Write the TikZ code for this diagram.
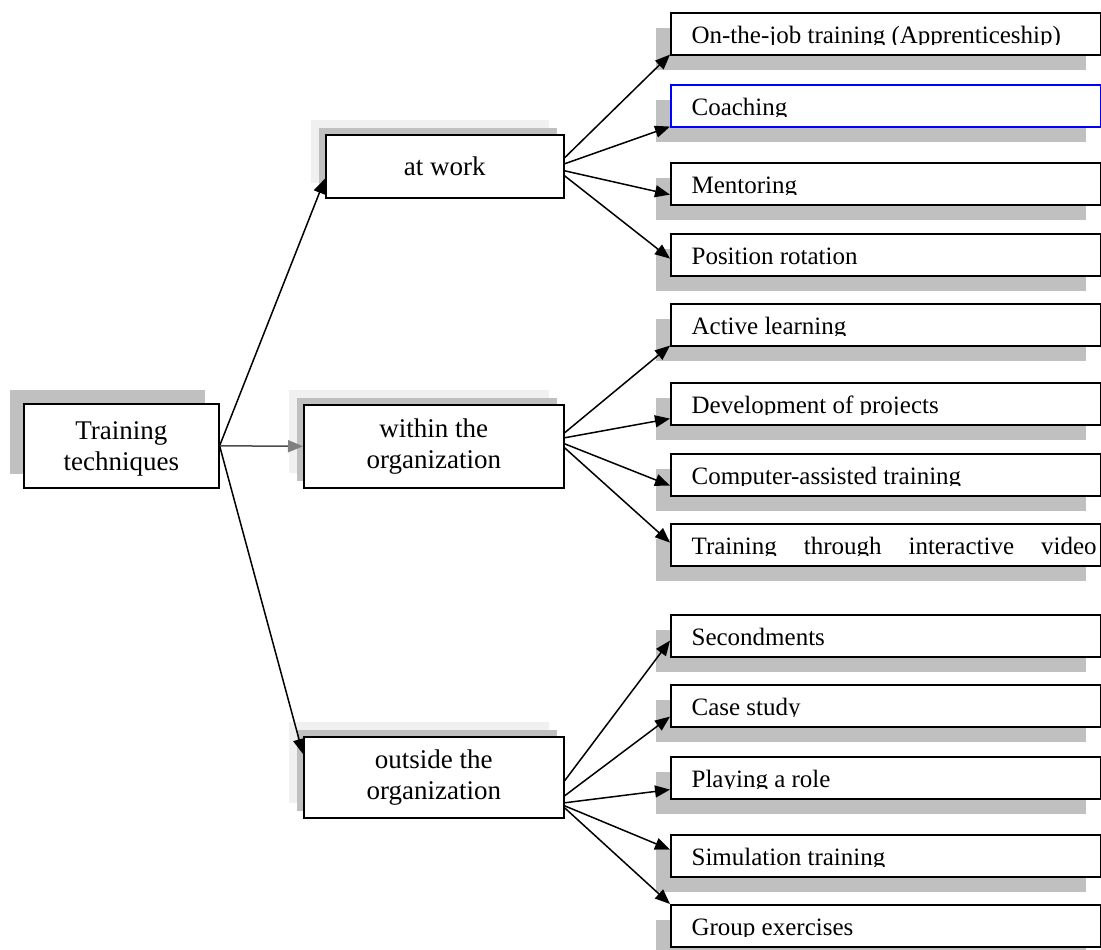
\documentclass[tikz,border=0pt]{standalone}
\usepackage{fontspec}
\setmainfont{Liberation Serif}
\usetikzlibrary{arrows.meta,shadows}
\definecolor{shade}{HTML}{C0C0C0}
\definecolor{paleshade}{HTML}{F0F0F0}
\tikzset{
  box/.style={draw, fill=white, line width=1.6pt, inner sep=0pt, anchor=north west},
  root/.style={box, minimum width=195pt, minimum height=84pt, align=center,
    font=\fontsize{27}{31}\selectfont,
    general shadow={fill=shade, draw=none, shadow xshift=-14pt, shadow yshift=14pt}},
  branch/.style={box, minimum width=260pt, minimum height=#1, align=center,
    font=\fontsize{27}{31}\selectfont,
    general shadow={fill=paleshade, draw=none, shadow xshift=-15pt, shadow yshift=15pt},
    general shadow={fill=shade, draw=none, shadow xshift=-7pt, shadow yshift=7pt}},
  leaftext/.style={draw=none, fill=none, minimum width=0pt, minimum height=0pt,
    inner sep=0pt, anchor=base west, path picture={}, font=\fontsize{25}{30}\selectfont},
  leaf/.style={box, minimum width=430pt, minimum height=42pt,
    general shadow={fill=shade, draw=none, path picture={}, shadow xshift=-15pt, shadow yshift=-15pt},
    path picture={
      \clip (path picture bounding box.north west) rectangle ([yshift=10.5pt]path picture bounding box.south east);
      \node[leaftext] at ([xshift=20pt,yshift=11pt]path picture bounding box.south west) {#1};}},
  link/.style={-{Triangle[length=15pt,width=12pt]}, line width=1.5pt},
}

\begin{document}
\begin{tikzpicture}[x=1pt,y=-1pt]
\useasboundingbox (0,0) rectangle (1101,950);
% root and the three groups
\node[root, text depth=-6pt] (tech) at (23,403) {Training\\techniques};
\node[branch=63pt, minimum width=238pt] (work) at (325,134) {at work};
\node[branch=83pt] (inside) at (303,404) {within the\\organization};
\node[branch=81pt] (outside) at (303,736) {outside the\\organization};
% techniques
\node[leaf={On-the-job training (Apprenticeship)}] (appr) at (670,12) {};
\node[leaf={Coaching}, draw=blue] (coach) at (670,84) {};
\node[leaf={Mentoring}] (mentor) at (670,162) {};
\node[leaf={Position rotation}] (rot) at (670,233) {};
\node[leaf={Active learning}] (active) at (670,303) {};
\node[leaf={Development of projects}] (proj) at (670,382) {};
\node[leaf={Computer-assisted training}] (cat) at (670,453) {};
\node[leaf={\makebox[405pt][s]{Training through interactive video}}] (video) at (670,523) {};
\node[leaf={Secondments}] (second) at (670,614) {};
\node[leaf={Case study}] (case) at (670,684) {};
\node[leaf={Playing a role}] (role) at (670,756) {};
\node[leaf={Simulation training}] (sim) at (670,834) {};
\node[leaf={Group exercises}] (group) at (670,904) {};
% root links
\draw[link] (tech.east) -- ([yshift=20pt]work.south west);
\draw[link, draw=black!70, -{Triangle[length=15pt,width=12pt,color=black!50]}] (tech.east) -- (inside.west);
\draw[link] (tech.east) -- ([yshift=-18pt]outside.north west);
% at work
\draw[link] ([yshift=8.5pt]work.east) -- ([yshift=1pt]appr.south west);
\draw[link] ([yshift=2.5pt]work.east) -- ([yshift=1pt]coach.south west);
\draw[link] ([yshift=-4.5pt]work.east) -- ([yshift=11pt]mentor.south west);
\draw[link] ([yshift=-9.5pt]work.east) -- ([yshift=18pt]rot.south west);
% within the organization
\draw[link] ([yshift=13.5pt]inside.east) -- ([yshift=1pt]active.south west);
\draw[link] ([yshift=8.5pt]inside.east) -- ([yshift=7pt]proj.south west);
\draw[link] ([yshift=2.5pt]inside.east) -- ([yshift=11pt]cat.south west);
\draw[link] ([yshift=-1.5pt]inside.east) -- ([yshift=24pt]video.south west);
% outside the organization
\draw[link] ([yshift=-3.5pt]outside.east) -- ([yshift=17pt]second.south west);
\draw[link] ([yshift=-18.5pt]outside.east) -- ([yshift=11pt]case.south west);
\draw[link] ([yshift=-25.5pt]outside.east) -- ([yshift=10pt]role.south west);
\draw[link] ([yshift=-28.5pt]outside.east) -- ([yshift=28pt]sim.south west);
\draw[link] ([yshift=-30.5pt]outside.east) -- (group.north west);
\end{tikzpicture}
\end{document}
